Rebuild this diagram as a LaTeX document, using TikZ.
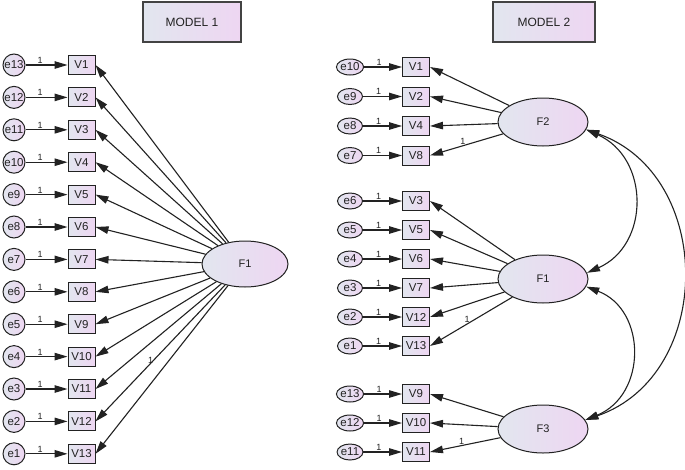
\documentclass[tikz,border=0pt]{standalone}
\usepackage{fontspec}
\setmainfont{Liberation Sans}
\usepackage{tikz}
\usetikzlibrary{arrows.meta}
\usetikzlibrary{shapes.geometric}
\definecolor{shadeL}{HTML}{E2E6EF}
\definecolor{shadeR}{HTML}{EED6F2}
\definecolor{ink}{HTML}{222222}
\tikzset{
errvar/.style={circle,draw=ink,line width=1pt,left color=shadeL,right color=shadeR,minimum size=22pt,inner sep=0pt,text=ink,font=\fontsize{11.5}{11.5}\selectfont},
errsmall/.style={errvar,ellipse,minimum size=0pt,minimum width=25pt,minimum height=16pt},
obsvar/.style={rectangle,draw=ink,line width=1pt,left color=shadeL,right color=shadeR,minimum width=27pt,minimum height=19pt,inner sep=0pt,text=ink,font=\fontsize{11.5}{11.5}\selectfont},
latent/.style={ellipse,draw=ink,line width=1pt,left color=shadeL,right color=shadeR,minimum width=90pt,minimum height=48pt,inner sep=0pt,text=ink,font=\fontsize{11}{11}\selectfont},
titlebox/.style={rectangle,draw=ink!85,line width=1.4pt,left color=shadeL,right color=shadeR,minimum width=98pt,minimum height=40pt,text=ink,font=\fontsize{12}{12}\selectfont},
load/.style={draw=ink,line width=1.1pt,-{Triangle[length=13pt,width=7.5pt]}},
cov/.style={load,{Triangle[length=13pt,width=7.5pt]}-{Triangle[length=13pt,width=7.5pt]}},
one/.style={inner sep=1pt,text=ink,font=\fontsize{9}{9}\selectfont}
}
\begin{document}
\begin{tikzpicture}[x=1pt,y=-1pt]
\path[use as bounding box,fill=white] (0,0) rectangle (685,469);
\node[titlebox] (model1) at (192,22) {MODEL 1};
\node[titlebox,minimum width=102pt] (model2) at (544,22) {MODEL 2};
% model 1
\node[latent,minimum width=86pt,minimum height=46pt] (F1a) at (245,264) {F1};
\foreach \i in {1,...,13} {
\pgfmathsetmacro\y{65+(\i-1)*32.4}
\pgfmathtruncatemacro\e{14-\i}
\node[obsvar] (a\i) at (81.5,\y) {V\i};
\node[errvar] (ae\e) at (14,\y) {e\e};
\draw[load] (ae\e) -- node[one,above,pos=0.35] {1} (a\i);
\draw[load] (F1a) -- (a\i.east);
}
\path (F1a) -- node[one,xshift=-11pt,yshift=9pt] {1} (a13.east);
% model 2
\node[latent] (F2) at (543,122) {F2};
\node[latent] (F1) at (543,279) {F1};
\node[latent] (F3) at (543,429) {F3};
\foreach \y/\v/\e/\f in {67/1/10/F2, 96.5/2/9/F2, 126/4/8/F2, 155.5/8/7/F2,
201/3/6/F1, 230/5/5/F1, 259/6/4/F1, 288/7/3/F1, 317/12/2/F1, 346/13/1/F1,
394/9/13/F3, 423/10/12/F3, 452/11/11/F3} {
\node[obsvar] (b\v) at (416,\y) {V\v};
\node[errsmall] (be\e) at (350,\y) {e\e};
\draw[load] (be\e) -- node[one,above,pos=0.4] {1} (b\v);
\draw[load] (\f) -- (b\v.east);
}
\path (F2) -- node[one,above,pos=0.55] {1} (b8.east);
\path (F1) -- node[one,above,pos=0.55] {1} (b13.east);
\path (F3) -- node[one,above,pos=0.55] {1} (b11.east);
\draw[cov] (F2.-10) .. controls (650,158) and (650,245) .. (F1.8);
\draw[cov] (F2.-10) .. controls (715,175) and (715,375) .. (F3.12);
\draw[cov] (F1.-10) .. controls (647,310) and (647,395) .. (F3.12);
\end{tikzpicture}
\end{document}
